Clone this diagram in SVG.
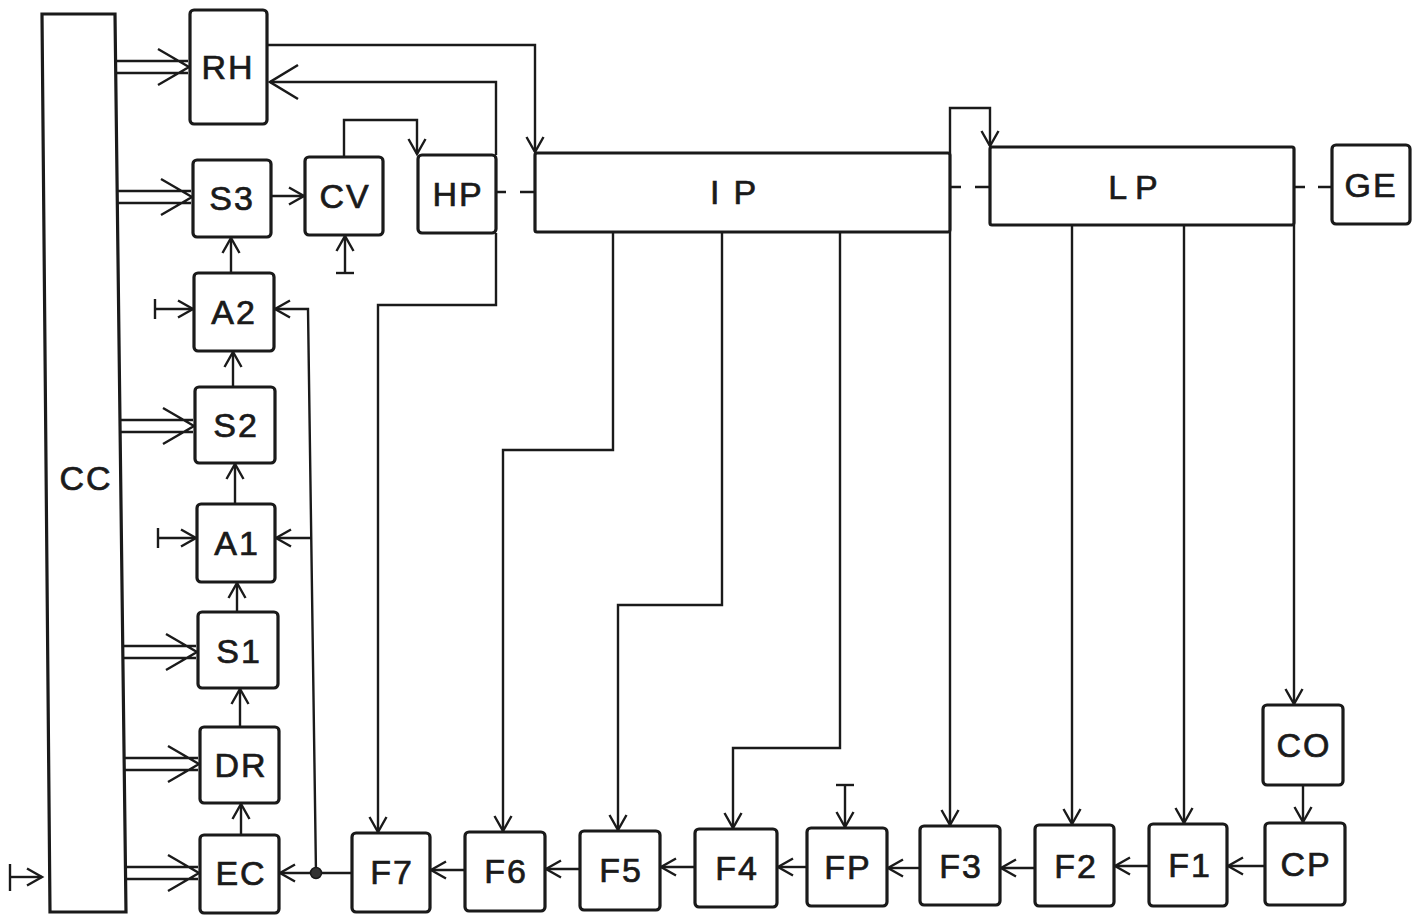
<svg xmlns="http://www.w3.org/2000/svg" width="1421" height="917" viewBox="0 0 1421 917">
<style>
.n{fill:#fff;stroke:#1a1a1a;stroke-width:3.2}
.t{font-family:"Liberation Sans",Arial,sans-serif;font-size:34px;fill:#1a1a1a;stroke:#1a1a1a;stroke-width:0.7;text-anchor:middle;letter-spacing:2px}
.c{fill:none;stroke:#1a1a1a;stroke-width:2.4}
.s{marker-end:url(#a)}
.d{fill:none;stroke:#1a1a1a;stroke-width:2.4}
</style>
<defs>
<marker id="a" markerUnits="userSpaceOnUse" markerWidth="20" markerHeight="20" refX="16" refY="10" orient="auto"><path d="M1,1.5 L16,10 L1,18.5" fill="none" stroke="#1a1a1a" stroke-width="2.4"/></marker>
<marker id="b" markerUnits="userSpaceOnUse" markerWidth="32" markerHeight="38" refX="29" refY="19" orient="auto"><path d="M1,2 L29,19 L1,36" fill="none" stroke="#1a1a1a" stroke-width="2.6"/></marker>
</defs>
<rect width="1421" height="917" fill="#fff"/>
<g id="connectors">
<path class="d" d="M116,61 H188 M116,73 H188 M158,49 L189,67 L158,85"/>
<path class="d" d="M117,191 H191 M117,203 H191 M161,179 L192,197 L161,215"/>
<path class="d" d="M120,420 H193 M120,432 H193 M163,408 L194,426 L163,444"/>
<path class="d" d="M123,646 H196 M123,658 H196 M166,634 L197,652 L166,670"/>
<path class="d" d="M124,758 H198 M124,770 H198 M168,746 L199,764 L168,782"/>
<path class="d" d="M125,867 H198 M125,879 H198 M168,855 L199,873 L168,891"/>
<path class="c" d="M10,864 V891"/>
<path class="c s" d="M10,877 H42"/>
<path class="c s" d="M241,835 V804"/>
<path class="c s" d="M240,727 V689"/>
<path class="c s" d="M237,612 V583"/>
<path class="c s" d="M235,504 V464"/>
<path class="c s" d="M233,387 V352"/>
<path class="c s" d="M231,273 V238"/>
<path class="c" d="M155,299 V319 M158,528 V548"/>
<path class="c s" d="M155,309 H193"/>
<path class="c s" d="M158,538 H196"/>
<path class="c s" d="M316,873 L308,309 H275"/>
<path class="c s" d="M311,538 H276"/>
<path class="c s" d="M271,196 H304"/>
<path class="c s" d="M344,157 V120 H417 V154"/>
<path class="c" d="M336,273 H354"/>
<path class="c s" d="M345,273 V236"/>
<path class="c s" d="M267,45 H535 V152"/>
<path class="c" d="M496,155 V82 H270" marker-end="url(#b)"/>
<path class="c s" d="M496,233 V305 H378 V832"/>
<path class="c" d="M496,192 H506 M520,192 H535"/>
<path class="c" d="M950,187 H961 M975,187 H990"/>
<path class="c" d="M1294,187 H1305 M1318,187 H1332"/>
<path class="c s" d="M950,153 V108 H990 V146"/>
<path class="c s" d="M950,232 V825"/>
<path class="c s" d="M613,232 V450 H503 V831"/>
<path class="c s" d="M722,232 V605 H618 V830"/>
<path class="c s" d="M840,232 V748 H733 V828"/>
<path class="c" d="M836,785 H854"/>
<path class="c s" d="M845,785 V827"/>
<path class="c s" d="M1072,225 V824"/>
<path class="c s" d="M1184,225 V823"/>
<path class="c s" d="M1294,225 V704"/>
<path class="c s" d="M1303,785 V822"/>
<path class="c s" d="M1265,866 H1228"/>
<path class="c s" d="M1149,866 H1115"/>
<path class="c s" d="M1035,868 H1001"/>
<path class="c s" d="M920,868 H888"/>
<path class="c s" d="M807,867 H778"/>
<path class="c s" d="M695,867 H661"/>
<path class="c s" d="M580,869 H546"/>
<path class="c s" d="M465,870 H431"/>
<path class="c s" d="M352,873 H280"/>
<circle cx="316" cy="873" r="5.5" fill="#333" stroke="#1a1a1a" stroke-width="1.5"/>
</g>
<g id="CC"><path class="n" d="M42,14 L115,14 L126,912 L50,912 Z"/><text class="t" x="86" y="490">CC</text></g>
<g id="RH"><rect class="n" x="190" y="10" width="77" height="114" rx="4"/><text class="t" x="228" y="79">RH</text></g>
<g id="S3"><rect class="n" x="193" y="160" width="78" height="77" rx="4"/><text class="t" x="232" y="210">S3</text></g>
<g id="CV"><rect class="n" x="305" y="157" width="78" height="78" rx="4"/><text class="t" x="345" y="208">CV</text></g>
<g id="HP"><rect class="n" x="418" y="155" width="78" height="78" rx="4"/><text class="t" x="458" y="206">HP</text></g>
<g id="IP"><rect class="n" x="535" y="153" width="415" height="79" rx="2"/><text class="t" x="740" y="204" style="letter-spacing:14px">IP</text></g>
<g id="LP"><rect class="n" x="990" y="147" width="304" height="78" rx="2"/><text class="t" x="1137" y="199" style="letter-spacing:8px">LP</text></g>
<g id="GE"><rect class="n" x="1332" y="145" width="78" height="79" rx="4"/><text class="t" x="1371" y="197">GE</text></g>
<g id="A2"><rect class="n" x="194" y="273" width="80" height="78" rx="4"/><text class="t" x="234" y="324">A2</text></g>
<g id="S2"><rect class="n" x="195" y="387" width="80" height="76" rx="4"/><text class="t" x="236" y="437">S2</text></g>
<g id="A1"><rect class="n" x="197" y="504" width="78" height="78" rx="4"/><text class="t" x="237" y="555">A1</text></g>
<g id="S1"><rect class="n" x="198" y="612" width="80" height="76" rx="4"/><text class="t" x="239" y="663">S1</text></g>
<g id="DR"><rect class="n" x="200" y="727" width="79" height="76" rx="4"/><text class="t" x="241" y="777">DR</text></g>
<g id="EC"><rect class="n" x="200" y="835" width="79" height="78" rx="4"/><text class="t" x="241" y="885">EC</text></g>
<g id="F7"><rect class="n" x="352" y="833" width="78" height="79" rx="4"/><text class="t" x="392" y="884">F7</text></g>
<g id="F6"><rect class="n" x="465" y="832" width="80" height="79" rx="4"/><text class="t" x="506" y="883">F6</text></g>
<g id="F5"><rect class="n" x="580" y="831" width="80" height="79" rx="4"/><text class="t" x="621" y="882">F5</text></g>
<g id="F4"><rect class="n" x="695" y="829" width="82" height="78" rx="4"/><text class="t" x="737" y="880">F4</text></g>
<g id="FP"><rect class="n" x="807" y="828" width="80" height="78" rx="4"/><text class="t" x="848" y="879">FP</text></g>
<g id="F3"><rect class="n" x="920" y="826" width="80" height="79" rx="4"/><text class="t" x="961" y="878">F3</text></g>
<g id="F2"><rect class="n" x="1035" y="825" width="79" height="81" rx="4"/><text class="t" x="1076" y="878">F2</text></g>
<g id="F1"><rect class="n" x="1149" y="824" width="78" height="82" rx="4"/><text class="t" x="1190" y="877">F1</text></g>
<g id="CO"><rect class="n" x="1263" y="705" width="80" height="80" rx="4"/><text class="t" x="1304" y="757">CO</text></g>
<g id="CP"><rect class="n" x="1265" y="823" width="80" height="82" rx="4"/><text class="t" x="1306" y="876">CP</text></g>
</svg>
